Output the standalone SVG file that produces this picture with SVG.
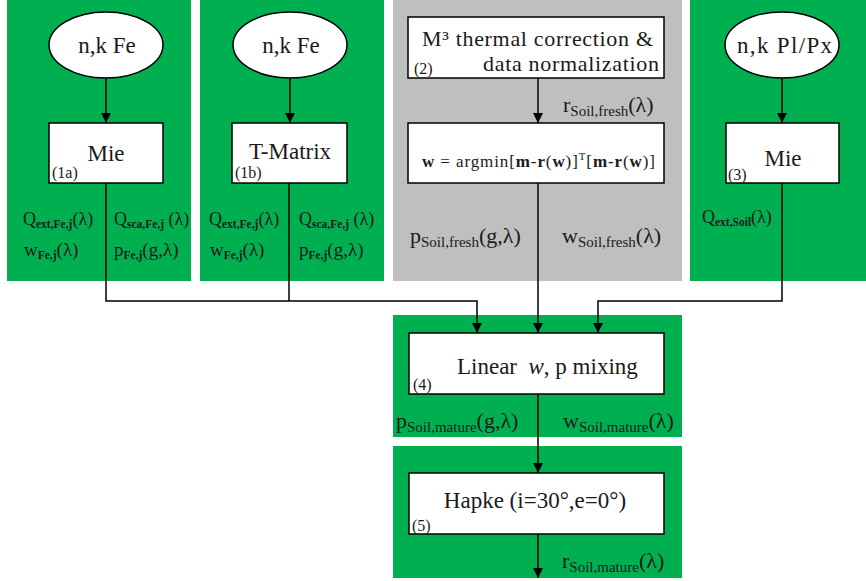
<svg xmlns="http://www.w3.org/2000/svg" width="866" height="581" viewBox="0 0 866 581" font-family="'Liberation Serif', 'DejaVu Serif', serif">
  <defs>
    <marker id="arr" viewBox="0 0 10 10" refX="10" refY="5" markerWidth="10" markerHeight="10" markerUnits="userSpaceOnUse" orient="auto">
      <path d="M0,0 L10,5 L0,10 z" fill="#000"/>
    </marker>
    <style>
      .green { fill: #00AF50; }
      .gray { fill: #BFBFBF; }
      .box { fill: #fff; stroke: #000; stroke-width: 1.5; }
      .ell { fill: #fff; stroke: #000; stroke-width: 1.5; }
      text { font-family: 'Liberation Serif', 'DejaVu Serif', serif; fill: #1a1a1a; }
      .title { font-size: 23px; }
      .num { font-size: 16px; }
      .lab { font-size: 18px; }
      .labw { font-size: 19px; }
      .labsub { font-size: 11.5px; font-weight: bold; }
      .big { font-size: 22px; }
      .bigsub { font-size: 15px; }
      .conn { fill: none; stroke: #000; stroke-width: 1.5; }
    </style>
  </defs>

  <!-- background panels -->
  <rect class="green" x="7" y="0" width="184" height="281"/>
  <rect class="green" x="200" y="0" width="184" height="281"/>
  <rect class="gray" x="393" y="0" width="289" height="281"/>
  <rect class="green" x="690" y="0" width="176" height="281"/>
  <rect class="green" x="393" y="315" width="289" height="122"/>
  <rect class="green" x="393" y="446" width="289" height="132"/>

  <!-- connectors -->
  <g id="connectors">
    <line class="conn" x1="106" y1="78" x2="106" y2="123" marker-end="url(#arr)"/>
    <line class="conn" x1="290" y1="78" x2="290" y2="123" marker-end="url(#arr)"/>
    <line class="conn" x1="538" y1="78" x2="538" y2="123" marker-end="url(#arr)"/>
    <line class="conn" x1="782" y1="78" x2="782" y2="123" marker-end="url(#arr)"/>
    <polyline class="conn" points="106,183 106,301 477,301 477,333" marker-end="url(#arr)"/>
    <line class="conn" x1="289" y1="183" x2="289" y2="301"/>
    <line class="conn" x1="538" y1="183" x2="538" y2="333" marker-end="url(#arr)"/>
    <polyline class="conn" points="782,183 782,301 598,301 598,333" marker-end="url(#arr)"/>
    <line class="conn" x1="538" y1="394" x2="538" y2="473" marker-end="url(#arr)"/>
    <line class="conn" x1="538" y1="534" x2="538" y2="578" marker-end="url(#arr)"/>
  </g>

  <!-- column 1a -->
  <g id="nk-fe-a">
    <ellipse class="ell" cx="106" cy="45" rx="57" ry="33"/>
    <text class="title" x="107" y="53" text-anchor="middle">n,k Fe</text>
  </g>
  <g id="mie-1a">
    <rect class="box" x="49" y="123" width="114" height="60"/>
    <text class="title" x="106" y="161" text-anchor="middle">Mie</text>
    <text class="num" x="52" y="178">(1a)</text>
  </g>
  <g id="labels-1a">
    <text class="lab" x="23" y="225">Q<tspan class="labsub" dy="3">ext,Fe,j</tspan><tspan dy="-3">(λ)</tspan></text>
    <text class="lab" x="114" y="225">Q<tspan class="labsub" dy="3">sca,Fe,j</tspan><tspan dy="-3"> (λ)</tspan></text>
    <text class="labw" x="24" y="256">w<tspan class="labsub" dy="3">Fe,j</tspan><tspan dy="-3">(λ)</tspan></text>
    <text class="labw" x="114" y="256">p<tspan class="labsub" dy="3">Fe,j</tspan><tspan dy="-3">(g,λ)</tspan></text>
  </g>

  <!-- column 1b -->
  <g id="nk-fe-b">
    <ellipse class="ell" cx="290" cy="45" rx="57" ry="33"/>
    <text class="title" x="291" y="53" text-anchor="middle">n,k Fe</text>
  </g>
  <g id="tmatrix-1b">
    <rect class="box" x="232" y="123" width="115" height="60"/>
    <text class="title" x="290" y="159" text-anchor="middle">T-Matrix</text>
    <text class="num" x="235" y="178">(1b)</text>
  </g>
  <g id="labels-1b">
    <text class="lab" x="209" y="225">Q<tspan class="labsub" dy="3">ext,Fe,j</tspan><tspan dy="-3">(λ)</tspan></text>
    <text class="lab" x="299" y="225">Q<tspan class="labsub" dy="3">sca,Fe,j</tspan><tspan dy="-3"> (λ)</tspan></text>
    <text class="labw" x="210" y="256">w<tspan class="labsub" dy="3">Fe,j</tspan><tspan dy="-3">(λ)</tspan></text>
    <text class="labw" x="299" y="256">p<tspan class="labsub" dy="3">Fe,j</tspan><tspan dy="-3">(g,λ)</tspan></text>
  </g>

  <!-- column 2 -->
  <g id="m3-correction">
    <rect class="box" x="408" y="17" width="256" height="61"/>
    <text class="big" x="422" y="46" textLength="231">M³ thermal correction &amp;</text>
    <text class="big" x="483" y="71" textLength="176">data normalization</text>
    <text class="num" x="414" y="74">(2)</text>
  </g>
  <g id="inversion">
    <rect class="box" x="408" y="123" width="256" height="60"/>
    <text x="422" y="167" font-size="17" textLength="233"><tspan font-weight="bold">w</tspan> = argmin[<tspan font-weight="bold">m</tspan>-<tspan font-weight="bold">r</tspan>(<tspan font-weight="bold">w</tspan>)]<tspan font-size="11" dy="-7">T</tspan><tspan dy="7">[</tspan><tspan font-weight="bold">m</tspan>-<tspan font-weight="bold">r</tspan>(<tspan font-weight="bold">w</tspan>)]</text>
  </g>
  <g id="labels-2">
    <text class="big" x="563" y="112">r<tspan class="bigsub" dy="4">Soil,fresh</tspan><tspan dy="-4">(λ)</tspan></text>
    <text class="big" x="410" y="243">p<tspan class="bigsub" dy="4">Soil,fresh</tspan><tspan dy="-4">(g,λ)</tspan></text>
    <text class="big" x="562" y="243">w<tspan class="bigsub" dy="4">Soil,fresh</tspan><tspan dy="-4">(λ)</tspan></text>
  </g>

  <!-- column 3 -->
  <g id="nk-plpx">
    <ellipse class="ell" cx="782" cy="45" rx="57" ry="33"/>
    <text class="title" x="737" y="53" textLength="95">n,k Pl/Px</text>
  </g>
  <g id="mie-3">
    <rect class="box" x="726" y="123" width="113" height="60"/>
    <text class="title" x="783" y="166" text-anchor="middle">Mie</text>
    <text class="num" x="728" y="180">(3)</text>
  </g>
  <g id="labels-3">
    <text class="lab" x="702" y="223">Q<tspan class="labsub" dy="3">ext,Soil</tspan><tspan dy="-3">(λ)</tspan></text>
  </g>

  <!-- mixing -->
  <g id="mixing-4">
    <rect class="box" x="409" y="333" width="255" height="61"/>
    <text class="title" x="457" y="374">Linear&#160; <tspan font-style="italic">w</tspan>, p mixing</text>
    <text class="num" x="413" y="390">(4)</text>
  </g>
  <g id="labels-4">
    <text class="big" x="396" y="428">p<tspan class="bigsub" dy="4">Soil,mature</tspan><tspan dy="-4">(g,λ)</tspan></text>
    <text class="big" x="563" y="428">w<tspan class="bigsub" dy="4">Soil,mature</tspan><tspan dy="-4">(λ)</tspan></text>
  </g>

  <!-- hapke -->
  <g id="hapke-5">
    <rect class="box" x="409" y="473" width="255" height="61"/>
    <text class="title" x="535" y="508" text-anchor="middle">Hapke (i=30°,e=0°)</text>
    <text class="num" x="412" y="531">(5)</text>
  </g>
  <g id="labels-5">
    <text class="big" x="562" y="568">r<tspan class="bigsub" dy="4">Soil,mature</tspan><tspan dy="-4">(λ)</tspan></text>
  </g>
</svg>
